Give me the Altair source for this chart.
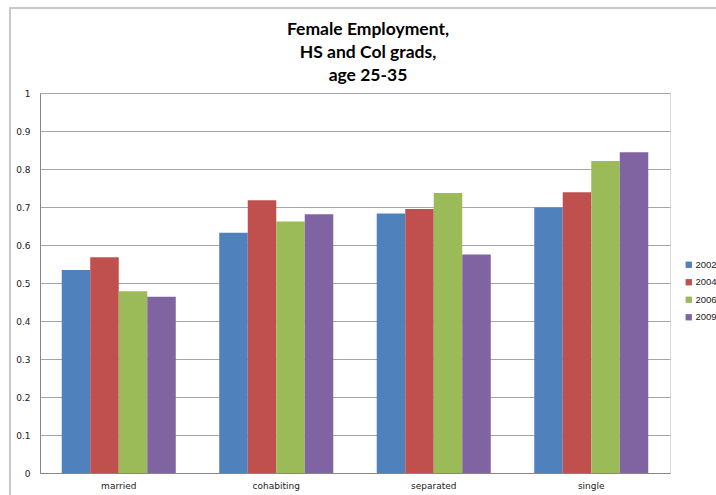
import altair as alt
import pandas as pd

categories = ["married", "cohabiting", "separated", "single"]
years = ["2002", "2004", "2006", "2009"]
v2002 = [0.534, 0.632, 0.683, 0.699]
v2004 = [0.568, 0.718, 0.695, 0.739]
v2006 = [0.478, 0.662, 0.737, 0.821]
v2009 = [0.464, 0.681, 0.575, 0.844]
colors = ["#4F81BD", "#C0504D", "#9BBB59", "#8064A2"]
y_ticks = [0, 0.1, 0.2, 0.3, 0.4, 0.5, 0.6, 0.7, 0.8, 0.9, 1]

rows = []
for yr, vals in zip(years, [v2002, v2004, v2006, v2009]):
    for c, v in zip(categories, vals):
        rows.append({"category": c, "year": yr, "value": v})
df = pd.DataFrame(rows)

W, H = 630, 380

frame = alt.Chart(pd.DataFrame({"a": [0]})).mark_rect(
    fill=None, stroke="#C8C8C8", strokeWidth=2
).encode(
    x=alt.value(-30), x2=alt.value(720), y=alt.value(-85), y2=alt.value(440)
)

bars = alt.Chart(df).mark_bar().encode(
    x=alt.X("category:N", sort=categories,
            scale=alt.Scale(paddingInner=0.276, paddingOuter=0.138),
            axis=alt.Axis(title=None, labelAngle=0, ticks=False, domainColor="#868686",
                          labelFont="DejaVu Sans", labelFontSize=9, labelColor="#222",
                          labelPadding=8, grid=False)),
    xOffset=alt.XOffset("year:N", sort=years),
    y=alt.Y("value:Q", scale=alt.Scale(domain=[0, 1], nice=False),
            axis=alt.Axis(title=None, values=y_ticks, ticks=False, domainColor="#868686",
                          gridColor="#A6A6A6", labelFont="DejaVu Sans", labelFontSize=9,
                          labelColor="#222", labelPadding=10,
                          labelExpr="datum.value == 0 ? '0' : datum.value == 1 ? '1' : format(datum.value, '.1f')")),
    color=alt.Color("year:N", sort=years,
                    scale=alt.Scale(domain=years, range=colors),
                    legend=alt.Legend(title=None, orient="none", legendX=644, legendY=167,
                                      symbolType="square", symbolSize=40, symbolStrokeWidth=0,
                                      labelFont="Liberation Sans", labelFontSize=9.5, labelColor="#222",
                                      rowPadding=6.5, labelOffset=2)),
)

chart = alt.layer(frame, bars).properties(
    width=W, height=H,
    padding={"left": 40, "top": 93, "right": 46, "bottom": 22},
    autosize=alt.AutoSizeParams(type="none"),
    title=alt.Title(["Female Employment,", "HS and Col grads,", "age 25-35"],
                    font="Lato", fontSize=17.5, fontWeight="bold", color="#000",
                    anchor="middle", frame="group", dx=13, offset=-77, lineHeight=23),
).configure_view(stroke=None).configure(background="white")

chart.save("out.html", embed_options={"renderer": "svg", "actions": False})
